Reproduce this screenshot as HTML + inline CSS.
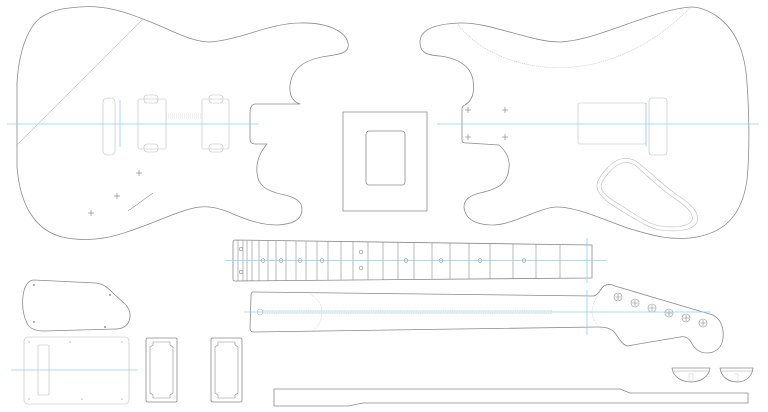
<!DOCTYPE html>
<html><head><meta charset="utf-8"><style>
html,body{margin:0;padding:0;background:#fff;width:768px;height:412px;overflow:hidden}
svg{display:block}
</style></head><body>
<svg width="768" height="412" viewBox="0 0 768 412" xmlns="http://www.w3.org/2000/svg" fill="none" stroke-linejoin="round">
<g stroke="#8a8a8a" stroke-width="0.8">
<path d="M80,7 C105,5 125,12 143,19 C170,29 190,42 210,42 C240,40 270,23 300,23 C330,22 346,33 348,43 C350,52 342,54 328,56 C305,59 292,68 290,85 C289,97 294,102 300,104 L255,104 C250,105 250,110 250,115 L250,138 C250,143 252,144 256,144 L267,144 C260,152 256,162 257,173 C258,185 265,191 285,195 C298,198 302,203 302,209 C302,220 293,224 277,225 C260,225 245,219 233,214 C220,208 210,206 200,207 C180,209 150,226 117,235 C100,240 80,241 62,237 C35,230 20,205 17,167 L17,83 C19,50 28,28 40,18 C53,9 66,8 80,7 Z"/>
<path d="M691,7 C650,10 600,40 560,42 C530,42 490,22 460,23 C430,24 420,32 420,42 C420,52 425,55 440,56 C455,58 470,64 473,80 C475,93 472,102 463,106 L462,108 L462,140 C462,143 464,143 468,143 L499,145 C507,152 510,160 509,168 C508,182 500,188 484,192 C470,195 464,199 464,207 C465,219 475,225 494,225 C515,224 540,207 557,207 C580,207 615,225 634,230 C655,236 670,240 690,238 C725,234 742,215 747,180 C750,150 749,110 747,83 C745,50 735,30 718,17 C708,10 700,7 691,7 Z"/>
<rect x="343" y="112" width="84" height="99"/>
<rect x="366" y="131" width="39" height="54" rx="3"/>
<path d="M235,240 L592,245 L592,278 L235,281 C233,281 233,280 233,278 L233,243 C233,241 234,240 235,240 Z"/>
<path d="M238,240V281M243,240V281M247,240V281M252,240V281M259,240V281M268,240.3V280.8M276,240.5V280.7M286,240.7V280.6M296,240.8V280.5M306,241V280.4M317,241.2V280.3M328,241.3V280.2M341,241.5V280.1M353,241.7V280M368,241.9V279.9M383,242.1V279.8M398,242.4V279.7M414,242.6V279.6M432,242.9V279.4M450,243.1V279.3M469,243.4V279.2M490,243.7V279M513,244V278.8M536,244.2V278.7M560,244.5V278.5" stroke-width="0.6"/>
<g stroke-width="0.6">
<circle cx="241" cy="249" r="1.8"/><circle cx="241" cy="272" r="1.8"/>
<circle cx="263" cy="260.5" r="1.8"/><circle cx="281" cy="260.5" r="1.8"/><circle cx="300" cy="260.5" r="1.8"/><circle cx="322" cy="260.5" r="1.8"/>
<circle cx="361" cy="252" r="1.8"/><circle cx="361" cy="268" r="1.8"/>
<circle cx="406" cy="260.5" r="1.8"/><circle cx="441" cy="260.5" r="1.8"/><circle cx="480" cy="260.5" r="1.8"/><circle cx="524" cy="260.5" r="1.8"/>
</g>
<path d="M253,292 L593,296 C598,296 600,289 604,286 C607,284 611,284 615,286 L713,315 C722,320 724,330 723,338 C722,348 715,353 707,353 C699,353 694,348 691,342 C688,337 684,336 680,337 L627,346 C622,344 620,340 615,333 C611,328 605,327 597,327 L253,332 C251,332 250,330 250,328 L251,296 C251,293 252,292 253,292 Z"/>
<path d="M310,294 C318,299 322,305 322,312 C322,320 318,326 313,332" stroke="#bbb" stroke-width="0.5" stroke-dasharray="1,1"/>
<path d="M602,289 C596,297 592,305 592,312 C592,319 597,325 603,330" stroke="#bbb" stroke-width="0.5" stroke-dasharray="1,1"/>
<path d="M263,310.5 L552,310.5 L552,313.5 L263,313.5" stroke="#aaa" stroke-width="0.4" stroke-dasharray="1,0.8"/>
<circle cx="260" cy="312" r="3" stroke="#aaa" stroke-width="0.5"/>
<g stroke-width="0.6">
<circle cx="618" cy="297" r="4"/><circle cx="635" cy="303" r="4"/><circle cx="652" cy="308" r="4"/><circle cx="669" cy="313" r="4"/><circle cx="686" cy="318" r="4"/><circle cx="703" cy="323" r="4"/>
<path d="M615,297h6M618,294v6M632,303h6M635,300v6M649,308h6M652,305v6M666,313h6M669,310v6M683,318h6M686,315v6M700,323h6M703,320v6"/>
</g>
<path d="M274,389 L620,389 L630,393 L748,393 L748,403 L363,403 L348,406 L274,406 Z"/>
<path d="M672,368 L710,368 C709,377 700,382 691,382 C682,382 673,377 672,368 Z"/>
<path d="M672,371 L710,371" stroke-width="0.4"/>
<path d="M720,368 L753,368 C752,377 745,382 737,382 C729,382 721,377 720,368 Z"/>
<path d="M720,371 L753,371" stroke-width="0.4"/>
<path d="M689,374h4v7h-4zM734,374h4v7h-4" stroke="#bbb" stroke-width="0.4"/>
<path d="M34,280 L96,283 C104,284 108,288 113,293 L126,305 C131,311 131,318 128,323 C125,328 120,329 115,329 L44,331 C35,331 29,328 27,323 C23,315 22,305 23,296 C24,287 28,280 34,280 Z"/>
<g fill="#777" stroke="none"><circle cx="34" cy="285" r="0.9"/><circle cx="110" cy="295" r="0.9"/><circle cx="34" cy="322" r="0.9"/><circle cx="105" cy="327" r="0.9"/></g>
<rect x="146" y="338" width="31" height="64" rx="1.5"/>
<path d="M153,342 L170,342 L170,345 L173,347 L173,393 L170,395 L170,398 L153,398 L153,395 L150,393 L150,347 L153,345 Z" stroke-width="0.6"/>
<rect x="211" y="338" width="31" height="64" rx="1.5"/>
<path d="M218,342 L235,342 L235,345 L238,347 L238,393 L235,395 L235,398 L218,398 L218,395 L215,393 L215,347 L218,345 Z" stroke-width="0.6"/>
</g>
<g stroke="#bdbdbd" stroke-width="0.6">
<path d="M143,19 L16,146"/>
<path d="M457,23 C490,70 600,100 691,7" stroke-dasharray="1,1"/>
<rect x="24" y="337" width="105" height="67" rx="4"/>
<rect x="38" y="345" width="11" height="50" rx="1"/>
<rect x="103" y="98" width="12" height="57" rx="4"/>
<rect x="138" y="99" width="28" height="50" rx="2"/>
<rect x="144" y="95" width="14" height="8" rx="3"/>
<rect x="144" y="144" width="14" height="8" rx="3"/>
<rect x="202" y="99" width="27" height="50" rx="2"/>
<rect x="209" y="95" width="14" height="8" rx="3"/>
<rect x="209" y="144" width="14" height="8" rx="3"/>
<path d="M166,114H202M166,116H202M166,118H202" stroke-dasharray="1,1" stroke-width="0.4"/>
<rect x="578" y="103" width="68" height="41" rx="2"/>
<rect x="649" y="98" width="18" height="57" rx="3"/>
<path d="M621,159 C612,161 598,176 597,185 C596,193 605,201 620,210 C635,219 648,228 660,230 C675,232 693,231 697,222 C700,212 690,203 677,195 C664,186 648,170 637,162 C632,158 626,158 621,159 Z"/>
<path d="M622,163 C615,165 602,178 601,186 C601,192 608,198 622,206 C636,215 648,224 660,226 C673,228 689,227 692,220 C694,213 686,206 674,198 C662,190 646,175 636,166 C632,163 627,162 622,163 Z"/>
</g>
<g stroke="#666" stroke-width="0.5">
<path d="M136,173h6M139,170v6M114,196h6M117,193v6M88,213h6M91,210v6"/>
<path d="M128,211 L153,193"/>
<path d="M465,110h6M468,107v6M502,110h6M505,107v6M465,137h6M468,134v6M502,137h6M505,134v6"/>
</g>
<g fill="#bbb" stroke="none"><circle cx="29" cy="342" r="0.8"/><circle cx="70" cy="342" r="0.8"/><circle cx="122" cy="342" r="0.8"/><circle cx="29" cy="399" r="0.8"/><circle cx="82" cy="399" r="0.8"/><circle cx="122" cy="399" r="0.8"/></g>
<g stroke="#8fd0ec" stroke-width="0.8">
<path d="M7,124H259"/>
<path d="M120,100V147"/>
<path d="M437,124H759"/>
<path d="M646,103V146"/>
<path d="M225,260.5H607"/>
<path d="M587,238V283"/>
<path d="M244,312H711"/>
<path d="M587,290V335"/>
<path d="M11,370H138"/>
</g>
</svg>
</body></html>
